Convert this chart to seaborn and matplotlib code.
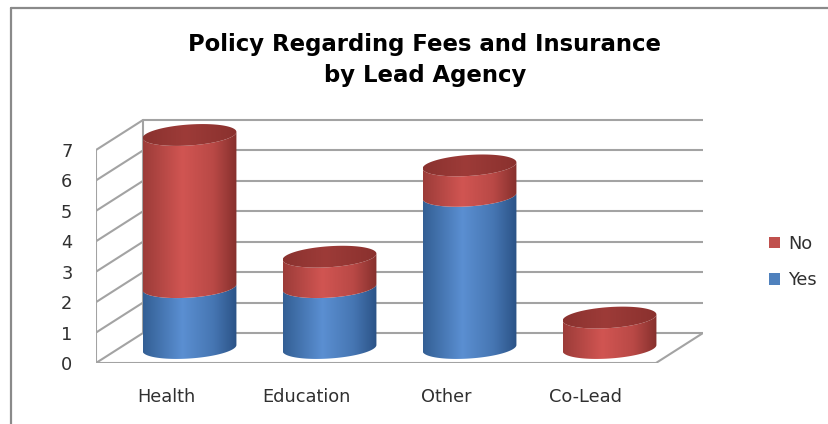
import numpy as np
import pandas as pd
import matplotlib
matplotlib.use("Agg")
import matplotlib.pyplot as plt
from matplotlib.patches import Polygon, Patch
from matplotlib.lines import Line2D
from matplotlib.colors import LinearSegmentedColormap
import seaborn as sns

# ---- data -------------------------------------------------------------
categories = ["Health", "Education", "Other", "Co-Lead"]
yes_counts = [2, 2, 5, 0]
no_counts = [5, 1, 1, 1]
y_ticks = [0, 1, 2, 3, 4, 5, 6, 7]
title = "Policy Regarding Fees and Insurance\nby Lead Agency"

# ---- style ------------------------------------------------------------
YES_COLOR = "#4f81bd"
NO_COLOR = "#c0504d"
GRID = "#a3a3a3"
TEXT = "#303030"

yes_body = LinearSegmentedColormap.from_list(
    "yes_body", [(0, "#335f94"), (0.42, "#5b8fd2"), (0.75, "#4676b3"), (1, "#2b5386")])
no_body = LinearSegmentedColormap.from_list(
    "no_body", [(0, "#9c3c39"), (0.42, "#d15552"), (0.75, "#b94946"), (1, "#86302d")])
no_cap = LinearSegmentedColormap.from_list(
    "no_cap", [(0, "#8a322f"), (0.45, "#9d3b38"), (1, "#8a312e")])
yes_cap = LinearSegmentedColormap.from_list(
    "yes_cap", [(0, "#2f5888"), (0.45, "#3d6aa3"), (1, "#2c5283")])

W, H, DPI = 829, 424, 100
sns.set_theme(style="white")
plt.rcParams["font.family"] = ["DejaVu Sans"]

fig = plt.figure(figsize=(W / DPI, H / DPI), dpi=DPI)

# oblique depth of the 3-D box, in data units
DX, DY = 0.336, 0.986
XMIN, XMAX = -0.5, 3.5
YTOP = 8.6
PX_X, PX_Y = 140.0, 30.43          # pixels per data unit
LEFT_PX, FLOOR_PX = 96, 363
ax = fig.add_axes([LEFT_PX / W, (H - FLOOR_PX) / H,
                   (XMAX + DX - XMIN) * PX_X / W, YTOP * PX_Y / H])
ax.patch.set_alpha(0)

df = pd.DataFrame({"category": categories, "Yes": yes_counts, "No": no_counts})
df["total"] = df["Yes"] + df["No"]

BAR_W = 0.67
sns.barplot(data=df, x="category", y="total", order=categories, color=NO_COLOR,
            width=BAR_W, errorbar=None, ax=ax)
sns.barplot(data=df, x="category", y="Yes", order=categories, color=YES_COLOR,
            width=BAR_W, errorbar=None, ax=ax)

n = len(categories)
total_bars = list(ax.patches[:n])
yes_bars = list(ax.patches[n:2 * n])

# ellipse half-height and tilt of the cylinder faces (value units)
B = 10.5 / PX_Y
S = 0.1


def ellipse_pts(cx, a, y, t):
    return cx + a * np.cos(t), y + B * np.sin(t) + S * np.cos(t)


def gradient_fill(verts, cmap, x0, x1, y0, y1, z):
    poly = Polygon(verts, closed=True, facecolor="none", edgecolor="none")
    ax.add_patch(poly)
    grad = np.linspace(0, 1, 256)[None, :]
    im = ax.imshow(grad, cmap=cmap, extent=[x0, x1, y0, y1], aspect="auto",
                   origin="lower", zorder=z, interpolation="bilinear")
    im.set_clip_path(poly)


def body(cx, a, y0, y1, cmap, z):
    t = np.linspace(np.pi, 2 * np.pi, 80)
    xb, yb = ellipse_pts(cx, a, y0, t)
    xt, yt = ellipse_pts(cx, a, y1, t)
    verts = np.column_stack([np.r_[xb, xt[::-1]], np.r_[yb, yt[::-1]]])
    gradient_fill(verts, cmap, cx - a, cx + a, y0 - B - S - 0.1, y1 + B + S + 0.1, z)


def cap(cx, a, y, cmap, z):
    t = np.linspace(0, 2 * np.pi, 160)
    xs, ys = ellipse_pts(cx, a, y, t)
    gradient_fill(np.column_stack([xs, ys]), cmap, cx - a, cx + a,
                  y - B - S - 0.1, y + B + S + 0.1, z)


# ---- walls and floor --------------------------------------------------
lw = 1.5
for k in y_ticks:
    ax.plot([XMIN + DX, XMAX + DX], [k + DY, k + DY], color=GRID, lw=lw, zorder=1,
            solid_capstyle="butt")
    ax.plot([XMIN, XMIN + DX], [k, k + DY], color=GRID, lw=lw, zorder=1)
ax.plot([XMIN, XMIN], [0, y_ticks[-1]], color=GRID, lw=lw, zorder=1)
ax.plot([XMIN + DX, XMIN + DX], [DY, y_ticks[-1] + DY], color=GRID, lw=lw, zorder=1)
ax.plot([XMIN, XMAX], [0, 0], color=GRID, lw=lw, zorder=1)
ax.plot([XMAX, XMAX + DX], [0, DY], color=GRID, lw=lw, zorder=1)

# ---- cylinders built from the seaborn bar geometry ----------------------
for i in range(n):
    tb, yb = total_bars[i], yes_bars[i]
    cx = tb.get_x() + tb.get_width() / 2 + DX / 2
    a = tb.get_width() / 2
    y_yes = yb.get_height()
    y_tot = tb.get_height()
    base = DY / 2
    z = 3 + i
    if y_yes > 0:
        body(cx, a, base, base + y_yes, yes_body, z)
    if y_tot > y_yes:
        body(cx, a, base + y_yes, base + y_tot, no_body, z)
        cap(cx, a, base + y_tot, no_cap, z + 0.5)
    else:
        cap(cx, a, base + y_yes, yes_cap, z + 0.5)
    tb.remove()
    yb.remove()

# ---- axes -------------------------------------------------------------
ax.set_xlim(XMIN, XMAX + DX)
ax.set_ylim(0, YTOP)
ax.set_xticks(range(n))
ax.set_xticklabels(categories)
ax.set_yticks(y_ticks)
ax.set_yticklabels([str(v) for v in y_ticks])
ax.tick_params(axis="both", length=0, labelsize=12.8, colors=TEXT)
ax.tick_params(axis="y", pad=17)
ax.tick_params(axis="x", pad=18)
ax.set_xlabel("")
ax.set_ylabel("")
for sp in ax.spines.values():
    sp.set_visible(False)

# ---- legend -----------------------------------------------------------
handles = [Patch(facecolor=NO_COLOR, edgecolor="none"),
           Patch(facecolor=YES_COLOR, edgecolor="none")]
fig.legend(handles, ["No", "Yes"], loc="center left",
           bbox_to_anchor=(769 / W, 1 - 262 / H), bbox_transform=fig.transFigure,
           frameon=False, fontsize=12.8, handlelength=0.62, handleheight=0.62,
           handletextpad=0.45, labelspacing=1.05, borderpad=0, borderaxespad=0,
           labelcolor=TEXT)

# ---- title ------------------------------------------------------------
fig.text(425 / W, 1 - 60 / H, title, ha="center", va="center", fontsize=16.4,
         fontweight="bold", color="black", linespacing=1.4)

# ---- chart border -----------------------------------------------------
bx, by = 11 / W, 1 - 8 / H
fig.add_artist(Line2D([bx, bx], [0, by], transform=fig.transFigure, color="#8a8a8a", lw=1.6))
fig.add_artist(Line2D([bx, 1], [by, by], transform=fig.transFigure, color="#8a8a8a", lw=1.6))

fig.savefig("out.png", dpi=DPI)
